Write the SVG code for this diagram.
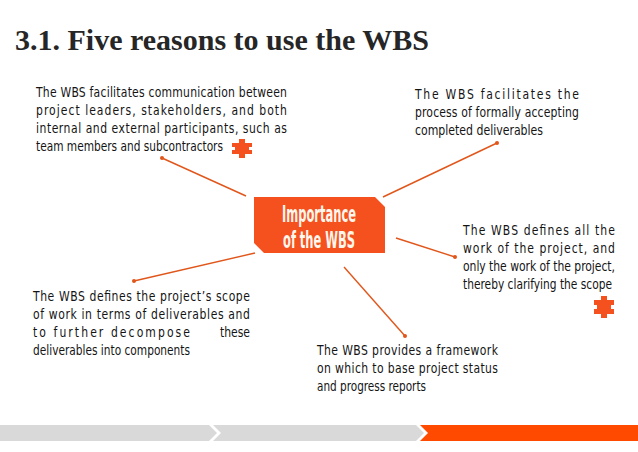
<svg xmlns="http://www.w3.org/2000/svg" width="638" height="452" viewBox="0 0 638 452">
<style>
.title{font-family:"Liberation Serif","Times New Roman",serif;font-weight:bold;font-size:30px;fill:#262626}
.t{font-family:"DejaVu Sans Condensed","Liberation Sans",sans-serif;font-stretch:condensed;font-size:14px;fill:#141414}
.box{fill:#F4511E}
.bt{font-family:"DejaVu Sans Condensed","Liberation Sans",sans-serif;font-stretch:condensed;font-weight:bold;font-size:23px;fill:#FFF6EC;text-anchor:middle}
.c{stroke:#E0561B;stroke-width:1.4;fill:none}
.dot{fill:#E0561B}
.pz{fill:#F4511E}
.g{fill:#D9D9D9}
.o{fill:#FF4A00}
</style>
<rect width="638" height="452" fill="#FFFFFF"/>
<text class="title" x="15" y="50">3.1. Five reasons to use the WBS</text>

<g id="connectors">
<line class="c" x1="162" y1="158" x2="246" y2="196"/>
<circle class="dot" cx="162" cy="158" r="2"/>
<line class="c" x1="497" y1="143" x2="383" y2="197"/>
<circle class="dot" cx="497" cy="143" r="2"/>
<line class="c" x1="396" y1="238" x2="455" y2="257"/>
<circle class="dot" cx="455" cy="257" r="2"/>
<line class="c" x1="255" y1="253" x2="134" y2="281"/>
<circle class="dot" cx="134" cy="281" r="2"/>
<line class="c" x1="344" y1="267" x2="405" y2="336"/>
<circle class="dot" cx="405" cy="336" r="2"/>
</g>

<g id="center">
<polygon class="box" points="254,197 375,197 385,207 385,253 264,253 254,243"/>
<text class="bt" x="319" y="222" textLength="74" lengthAdjust="spacingAndGlyphs">Importance</text>
<text class="bt" x="319" y="248" textLength="72" lengthAdjust="spacingAndGlyphs">of the WBS</text>
</g>

<g id="reason1">
<g transform="scale(0.86,1)">
<text class="t" x="41.86" y="97" textLength="291.86" lengthAdjust="spacing">The WBS facilitates communication between</text>
<text class="t" x="41.86" y="115" textLength="291.86" lengthAdjust="spacing">project leaders, stakeholders, and both</text>
<text class="t" x="41.86" y="133" textLength="291.86" lengthAdjust="spacing">internal and external participants, such as</text>
<text class="t" x="41.86" y="151" textLength="217.44" lengthAdjust="spacingAndGlyphs">team members and subcontractors</text>
</g>
<path class="pz" d="M232,143 H239 V139 H245 V143 H252 V147 H249 V150 H252 V154 H245 V158 H239 V154 H232 V150 H235 V147 H232 Z"/>
</g>

<g id="reason2">
<g transform="scale(0.86,1)">
<text class="t" x="482.56" y="99" textLength="190.7" lengthAdjust="spacing">The WBS facilitates the</text>
<text class="t" x="482.56" y="117" textLength="190.7" lengthAdjust="spacing">process of formally accepting</text>
<text class="t" x="482.56" y="135" textLength="148.84" lengthAdjust="spacingAndGlyphs">completed deliverables</text>
</g>
</g>

<g id="reason3">
<g transform="scale(0.86,1)">
<text class="t" x="538.37" y="235" textLength="176.74" lengthAdjust="spacing">The WBS defines all the</text>
<text class="t" x="538.37" y="253" textLength="176.74" lengthAdjust="spacing">work of the project, and</text>
<text class="t" x="538.37" y="271" textLength="176.74" lengthAdjust="spacing">only the work of the project,</text>
<text class="t" x="538.37" y="289" textLength="173.26" lengthAdjust="spacingAndGlyphs">thereby clarifying the scope</text>
</g>
<path class="pz" d="M594,300 H601 V296 H607 V300 H614 V305 H611 V309 H614 V314 H607 V318 H601 V314 H594 V309 H597 V305 H594 Z"/>
</g>

<g id="reason4">
<g transform="scale(0.86,1)">
<text class="t" x="38.37" y="301" textLength="252.33" lengthAdjust="spacing">The WBS defines the project’s scope</text>
<text class="t" x="38.37" y="319" textLength="252.33" lengthAdjust="spacing">of work in terms of deliverables and</text>
<text class="t" x="38.37" y="337" textLength="182.56" lengthAdjust="spacing">to further decompose</text>
<text class="t" x="290.7" y="337" text-anchor="end">these</text>
<text class="t" x="38.37" y="355" textLength="182.56" lengthAdjust="spacingAndGlyphs">deliverables into components</text>
</g>
</g>

<g id="reason5">
<g transform="scale(0.86,1)">
<text class="t" x="368.6" y="355" textLength="210.47" lengthAdjust="spacing">The WBS provides a framework</text>
<text class="t" x="368.6" y="373" textLength="210.47" lengthAdjust="spacing">on which to base project status</text>
<text class="t" x="368.6" y="391" textLength="126.74" lengthAdjust="spacingAndGlyphs">and progress reports</text>
</g>
</g>

<g id="progress">
<polygon class="g" points="0,425 209,425 217,433 209,441 0,441"/>
<polygon class="g" points="213,425 416,425 424,433 416,441 213,441 221,433"/>
<polygon class="o" points="420,425 638,425 638,441 420,441 428,433"/>
</g>
</svg>
